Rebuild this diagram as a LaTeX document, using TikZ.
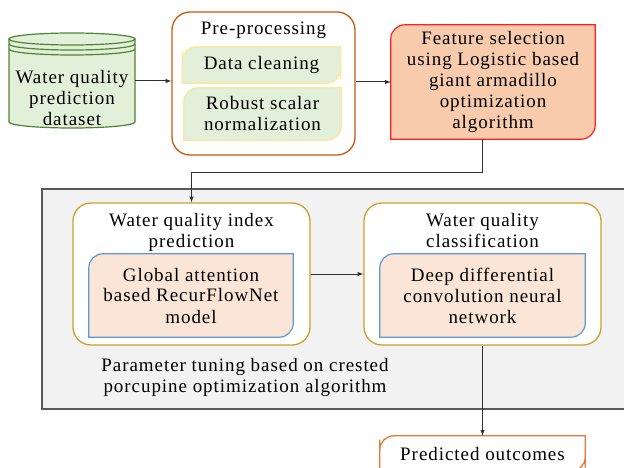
\documentclass[tikz,border=0pt]{standalone}
\usepackage{fontspec}
\setmainfont{Liberation Serif}[LetterSpace=5]
\usepackage{xcolor}
\usepackage{tikz}

\definecolor{dbgreen}{HTML}{548235}
\definecolor{dbfill}{HTML}{E2F0D9}
\definecolor{prebrown}{HTML}{C55A11}
\definecolor{stepfill}{HTML}{E2EFDA}
\definecolor{stepline}{HTML}{FFE699}
\definecolor{featfill}{HTML}{F8CBAD}
\definecolor{featline}{HTML}{FF2020}
\definecolor{tunefill}{HTML}{F2F2F2}
\definecolor{tuneline}{HTML}{595959}
\definecolor{goldline}{HTML}{C9A32E}
\definecolor{netfill}{HTML}{FBE5D6}
\definecolor{netline}{HTML}{5B9BD5}
\definecolor{outline}{HTML}{E07B3C}
\definecolor{arrowgray}{HTML}{303030}

\pgfdeclarelayer{back}
\pgfdeclarelayer{mid}
\pgfsetlayers{back,mid,main}

\tikzset{
  txt/.style={font=\fontsize{19}{21}\selectfont, align=center, inner sep=0pt},
  container/.style={draw, line width=1.3pt, rounded corners=18pt, fill=white},
  arr/.style={-latex, line width=1pt, draw=arrowgray},
}

% box with only the top left and bottom right corners rounded
\newcommand{\diagframe}[2]{%
  \begin{pgfonlayer}{mid}
    \draw[#2] (#1.north) [rounded corners=14pt] -- (#1.north west) -- (#1.west)
      [sharp corners] -- (#1.south west) -- (#1.south)
      [rounded corners=14pt] -- (#1.south east) -- (#1.east)
      [sharp corners] -- (#1.north east) -- cycle;
  \end{pgfonlayer}}

\begin{document}
\begin{tikzpicture}[x=1pt, y=-1pt]
  \useasboundingbox (0,0) rectangle (624,468);
  \clip (0,0) rectangle (624,468);

  % dataset cylinder
  \node (data) [minimum width=126pt, minimum height=95pt, inner sep=0pt] at (72,81) {};
  \fill[dbfill] (9,39) -- (9,122) arc[start angle=180, end angle=0, x radius=63, y radius=6] -- (135,39)
    arc[start angle=0, end angle=-180, x radius=63, y radius=6] -- cycle;
  \draw[dbgreen, line width=1.2pt] (9,39) -- (9,122) arc[start angle=180, end angle=0, x radius=63, y radius=6] -- (135,39);
  \draw[dbgreen, line width=1.2pt] (72,39) ellipse[x radius=63, y radius=6];
  \draw[dbgreen, line width=1.2pt] (9,44) arc[start angle=180, end angle=0, x radius=63, y radius=6];
  \draw[dbgreen, line width=1.2pt] (9,49) arc[start angle=180, end angle=0, x radius=63, y radius=6];
  \node (datatxt) [txt] at (72,98) {Water quality\\prediction\\dataset};

  % pre-processing
  \begin{pgfonlayer}{back}
    \node (pre) [container, draw=prebrown, minimum width=183pt, minimum height=143pt] at (263.5,83.5) {};
  \end{pgfonlayer}
  \node (pretitle) [txt] at (263.5,30) {Pre-processing};
  \node (clean) [txt, minimum width=158pt, minimum height=36pt] at (261.5,65) {Data cleaning};
  \diagframe{clean}{fill=stepfill, draw=stepline, line width=1.3pt}
  \node (robust) [txt, minimum width=157pt, minimum height=52pt] at (262.5,114) {Robust scalar\\normalization};
  \diagframe{robust}{fill=stepfill, draw=stepline, line width=1.3pt}

  % feature selection
  \node (feat) [txt, minimum width=204pt, minimum height=114pt] at (493,82)
    {Feature selection\\using Logistic based\\giant armadillo\\optimization\\algorithm};
  \diagframe{feat}{fill=featfill, draw=featline, line width=1.2pt}

  % parameter tuning area
  \begin{pgfonlayer}{back}
    \node (tune) [draw=tuneline, fill=tunefill, line width=1.5pt, minimum width=600pt, minimum height=220pt,
      inner sep=0pt] at (342,299) {};
    \node (wqi) [container, draw=goldline, minimum width=237pt, minimum height=142pt] at (191.5,274) {};
    \node (wqc) [container, draw=goldline, minimum width=237pt, minimum height=142pt] at (482.5,274) {};
  \end{pgfonlayer}
  \node (wqititle) [txt] at (191.5,232) {Water quality index\\prediction};
  \node (wqctitle) [txt] at (482.5,231) {Water quality\\classification};
  \node (gan) [txt, minimum width=204pt, minimum height=83pt] at (191,295.5)
    {Global attention\\based RecurFlowNet\\model};
  \diagframe{gan}{fill=netfill, draw=netline, line width=1.2pt}
  \node (ddc) [txt, minimum width=205pt, minimum height=83pt] at (482.5,295.5)
    {Deep differential\\convolution neural\\network};
  \diagframe{ddc}{fill=netfill, draw=netline, line width=1.2pt}
  \node (tunetxt) [txt] at (245,377) {Parameter tuning based on crested\\porcupine optimization algorithm};

  % output
  \node (out) [txt, minimum width=205pt, minimum height=35pt] at (482.5,453.5) {Predicted outcomes};
  \diagframe{out}{fill=white, draw=outline, line width=1.3pt}

  % connectors
  \draw[arr] (data.east) -- (pre.west |- data.east);
  \draw[arr] (pre.east |- feat.west) -- (feat.west);
  \draw[arr] (feat.south -| wqc.north) -- ++(0,33) -| (wqi.north);
  \draw[arr] (wqi.east) -- (wqc.west);
  \draw[arr] (wqc.south) -- (out.north);
\end{tikzpicture}
\end{document}
